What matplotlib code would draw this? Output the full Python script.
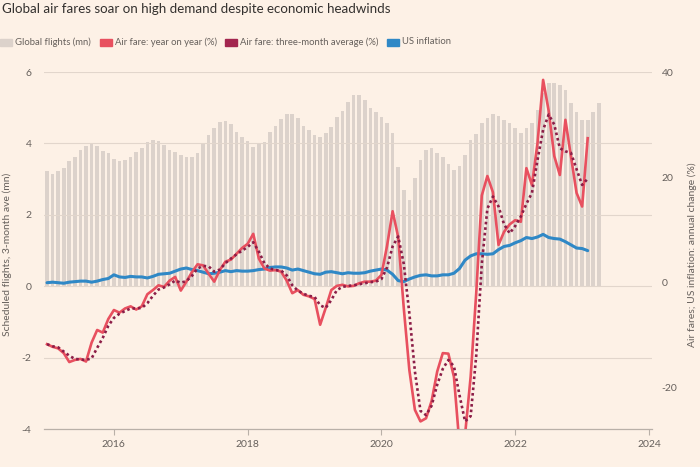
import matplotlib
matplotlib.use("Agg")
import matplotlib.pyplot as plt
from matplotlib.patches import Rectangle
import numpy as np

# ---------------- data ----------------
start_year = 2015  # monthly series starting Jan 2015

flights_mn = [
    3.22, 3.14, 3.23, 3.30, 3.51, 3.62, 3.83, 3.94, 4.01, 3.92, 3.79, 3.72,   # 2015
    3.57, 3.51, 3.55, 3.62, 3.76, 3.88, 4.04, 4.11, 4.08, 3.97, 3.83, 3.76,   # 2016
    3.69, 3.61, 3.61, 3.74, 4.01, 4.25, 4.43, 4.60, 4.64, 4.55, 4.33, 4.18,   # 2017
    4.06, 3.90, 4.01, 4.03, 4.33, 4.48, 4.69, 4.83, 4.83, 4.70, 4.50, 4.37,   # 2018
    4.25, 4.18, 4.30, 4.46, 4.74, 4.90, 5.16, 5.35, 5.35, 5.23, 4.98, 4.88,   # 2019
    4.74, 4.56, 4.28, 3.34, 2.69, 2.41, 3.02, 3.55, 3.81, 3.88, 3.73, 3.62,   # 2020
    3.42, 3.25, 3.38, 3.67, 4.09, 4.27, 4.56, 4.72, 4.82, 4.76, 4.67, 4.58,   # 2021
    4.42, 4.30, 4.42, 4.56, 4.93, 5.40, 5.68, 5.68, 5.63, 5.49, 5.13, 4.88,   # 2022
    4.65, 4.65, 4.88, 5.13,                                                   # 2023
]

airfare_yoy = [
    -11.8, -12.3, -12.6, -13.5, -15.2, -14.8, -14.6, -15.1, -11.5, -9.1, -9.6, -7.0,
    -5.3, -5.8, -5.0, -4.6, -5.2, -4.6, -2.3, -1.5, -0.6, -0.9, 0.3, 1.0,
    -1.6, 0.1, 1.9, 3.4, 3.2, 1.6, 0.1, 2.3, 3.9, 4.3, 5.4, 6.5,
    7.3, 9.2, 4.5, 2.6, 2.2, 2.3, 2.0, 0.3, -2.1, -1.5, -2.4, -2.7,
    -3.2, -8.1, -4.9, -1.5, -0.7, -0.5, -0.8, -0.7, -0.2, 0.1, 0.1, 0.3,
    1.4, 6.9, 13.5, 8.6, -4.9, -16.7, -24.3, -26.5, -25.9, -22.6, -17.0, -13.5,
    -13.6, -18.0, -31.0, -29.0, -18.0, -2.1, 16.5, 20.2, 17.1, 7.1, 9.6, 11.0,
    11.8, 11.5, 21.7, 18.5, 26.5, 38.5, 32.6, 24.0, 20.4, 30.9, 23.9, 17.0,
    14.4, 27.4,
]

airfare_3m_avg = [
    -11.8, -12.2, -12.4, -13.2, -14.0, -14.6, -14.7, -14.8, -14.5, -12.5, -10.6, -8.3,
    -6.8, -6.0, -5.5, -5.0, -5.0, -4.9, -4.0, -2.6, -1.4, -1.0, -0.4, 0.3,
    -0.1, 0.2, 1.2, 2.6, 3.1, 3.0, 2.0, 2.4, 3.6, 4.5, 5.3, 6.0,
    6.7, 7.6, 5.8, 3.6, 2.6, 2.3, 2.2, 1.3, -0.6, -1.6, -2.2, -2.6,
    -2.8, -4.4, -4.9, -3.4, -1.5, -0.9, -0.7, -0.6, -0.4, -0.2, 0.0, 0.1,
    0.6, 2.8, 6.8, 8.7, 3.5, -5.9, -17.0, -24.5, -25.3, -23.5, -19.5, -16.5,
    -14.8, -16.0, -21.5, -26.5, -25.5, -14.0, 3.5, 14.0, 16.3, 14.4, 11.0, 9.3,
    10.7, 12.5, 14.9, 17.0, 23.3, 29.0, 31.9, 30.0, 25.5, 24.9, 24.6, 21.5,
    18.5, 19.7,
]

us_inflation = [
    -0.1, 0.0, -0.1, -0.2, 0.0, 0.1, 0.2, 0.2, 0.0, 0.2, 0.5, 0.7,
    1.4, 1.0, 0.9, 1.1, 1.0, 1.0, 0.8, 1.1, 1.5, 1.6, 1.7, 2.1,
    2.5, 2.7, 2.4, 2.2, 1.9, 1.6, 1.7, 1.9, 2.2, 2.0, 2.2, 2.1,
    2.1, 2.2, 2.4, 2.5, 2.8, 2.9, 2.9, 2.7, 2.3, 2.5, 2.2, 1.9,
    1.6, 1.5, 1.9, 2.0, 1.8, 1.6, 1.8, 1.7, 1.7, 1.8, 2.1, 2.3,
    2.5, 2.3, 1.5, 0.3, 0.1, 0.6, 1.0, 1.3, 1.4, 1.2, 1.2, 1.4,
    1.4, 1.7, 2.6, 4.2, 5.0, 5.4, 5.4, 5.3, 5.4, 6.2, 6.8, 7.0,
    7.5, 7.9, 8.5, 8.3, 8.6, 9.1, 8.5, 8.3, 8.2, 7.7, 7.1, 6.5,
    6.4, 6.0,
]

x_ticks = [2016, 2018, 2020, 2022, 2024]
left_ticks = [-4, -2, 0, 2, 4, 6]
right_ticks = [-20, 0, 20, 40]

title = "Global air fares soar on high demand despite economic headwinds"
legend_labels = ["Global flights (mn)", "Air fare: year on year (%)",
                 "Air fare: three-month average (%)", "US inflation"]
left_label = "Scheduled flights, 3-month ave (mn)"
right_label = "Air fares; US inflation: annual change (%)"

# ---------------- style ----------------
BG = "#fdf1e6"
BAR = "#dcd2cb"
RED = "#e8505f"
CLARET = "#8c1d47"
CLARET_SW = "#a3264f"
BLUE = "#2f88c6"
TXT = "#66605c"
GRID = "#e2d6cc"
FONT = ["Lato", "DejaVu Sans"]

plt.rcParams["font.family"] = FONT

W, H = 700, 467
fig = plt.figure(figsize=(W / 100, H / 100), dpi=100, facecolor=BG)

def fx(px):
    return px / W

def fy(py):
    return 1 - py / H

ax_l, ax_r, ax_t, ax_b = 44, 651.7, 72, 429.3
ax_w = ax_r - ax_l
ax = fig.add_axes([fx(ax_l), fy(ax_b), fx(ax_w), (ax_b - ax_t) / H])
ax.set_facecolor(BG)
ax2 = ax.twinx()

def xs(n):
    return [start_year + k / 12 for k in range(n)]

# bars on left axis
ax.bar(xs(len(flights_mn)), flights_mn, width=0.65 / 12, color=BAR, zorder=1)
ax.set_ylim(-4, 6)
ax.set_xlim(2014.955, 2024.04)
ax.set_yticks(left_ticks)
ax.set_yticklabels([str(t) for t in left_ticks])
ax.grid(axis="y", color=GRID, lw=0.8, zorder=2)
ax.set_axisbelow(False)
for s in ["top", "left", "right"]:
    ax.spines[s].set_visible(False)
ax.spines["bottom"].set_color("#b9b0a8")
ax.spines["bottom"].set_linewidth(0.9)
ax.set_xticks(x_ticks)
ax.set_xticklabels([str(t) for t in x_ticks])
ax.tick_params(axis="x", colors="#b9b0a8", labelcolor=TXT, labelsize=7.5,
               length=4, width=0.8, pad=4)
ax.tick_params(axis="y", length=0, labelcolor=TXT, labelsize=7.5, pad=9)
ax.set_ylabel(left_label, color=TXT, fontsize=7.5)
ax.yaxis.set_label_coords((12 - ax_l) / ax_w, 0.49)

# lines on right axis
ax2.plot(xs(len(us_inflation)), us_inflation, color=BLUE, lw=2.2,
         solid_capstyle="round", solid_joinstyle="round", zorder=3)
ax2.plot(xs(len(airfare_yoy)), airfare_yoy, color=RED, lw=1.9,
         solid_joinstyle="round", zorder=4)
ax2.plot(xs(len(airfare_3m_avg)), airfare_3m_avg, color=CLARET, lw=1.9,
         linestyle=(0, (1.0, 1.1)), zorder=5)
ax2.set_ylim(-28, 40)
ax2.set_yticks(right_ticks)
ax2.set_yticklabels([str(t) for t in right_ticks])
ax2.tick_params(axis="y", length=0, labelcolor=TXT, labelsize=7.5, pad=7)
for s in ["top", "left", "right", "bottom"]:
    ax2.spines[s].set_visible(False)
ax2.set_ylabel(right_label, color=TXT, fontsize=7.5)
ax2.yaxis.set_label_coords((687 - ax_l) / ax_w, 0.49)

# title
fig.text(fx(2), fy(9), title, fontsize=9.6, color="#33302e", va="center", ha="left")

# legend (manual)
leg_y = 42
items = [(0, 15, BAR), (100, 115, RED), (225, 240, CLARET_SW), (387, 402, BLUE)]
for (sx, tx, col), lab in zip(items, legend_labels):
    fig.patches.append(Rectangle((fx(sx), fy(leg_y + 3.5)), fx(12), 7 / H,
                                 transform=fig.transFigure, color=col, figure=fig))
    fig.text(fx(tx), fy(leg_y), lab, fontsize=6.8, color=TXT, va="center", ha="left")

fig.savefig("out.png", dpi=100, facecolor=BG)
